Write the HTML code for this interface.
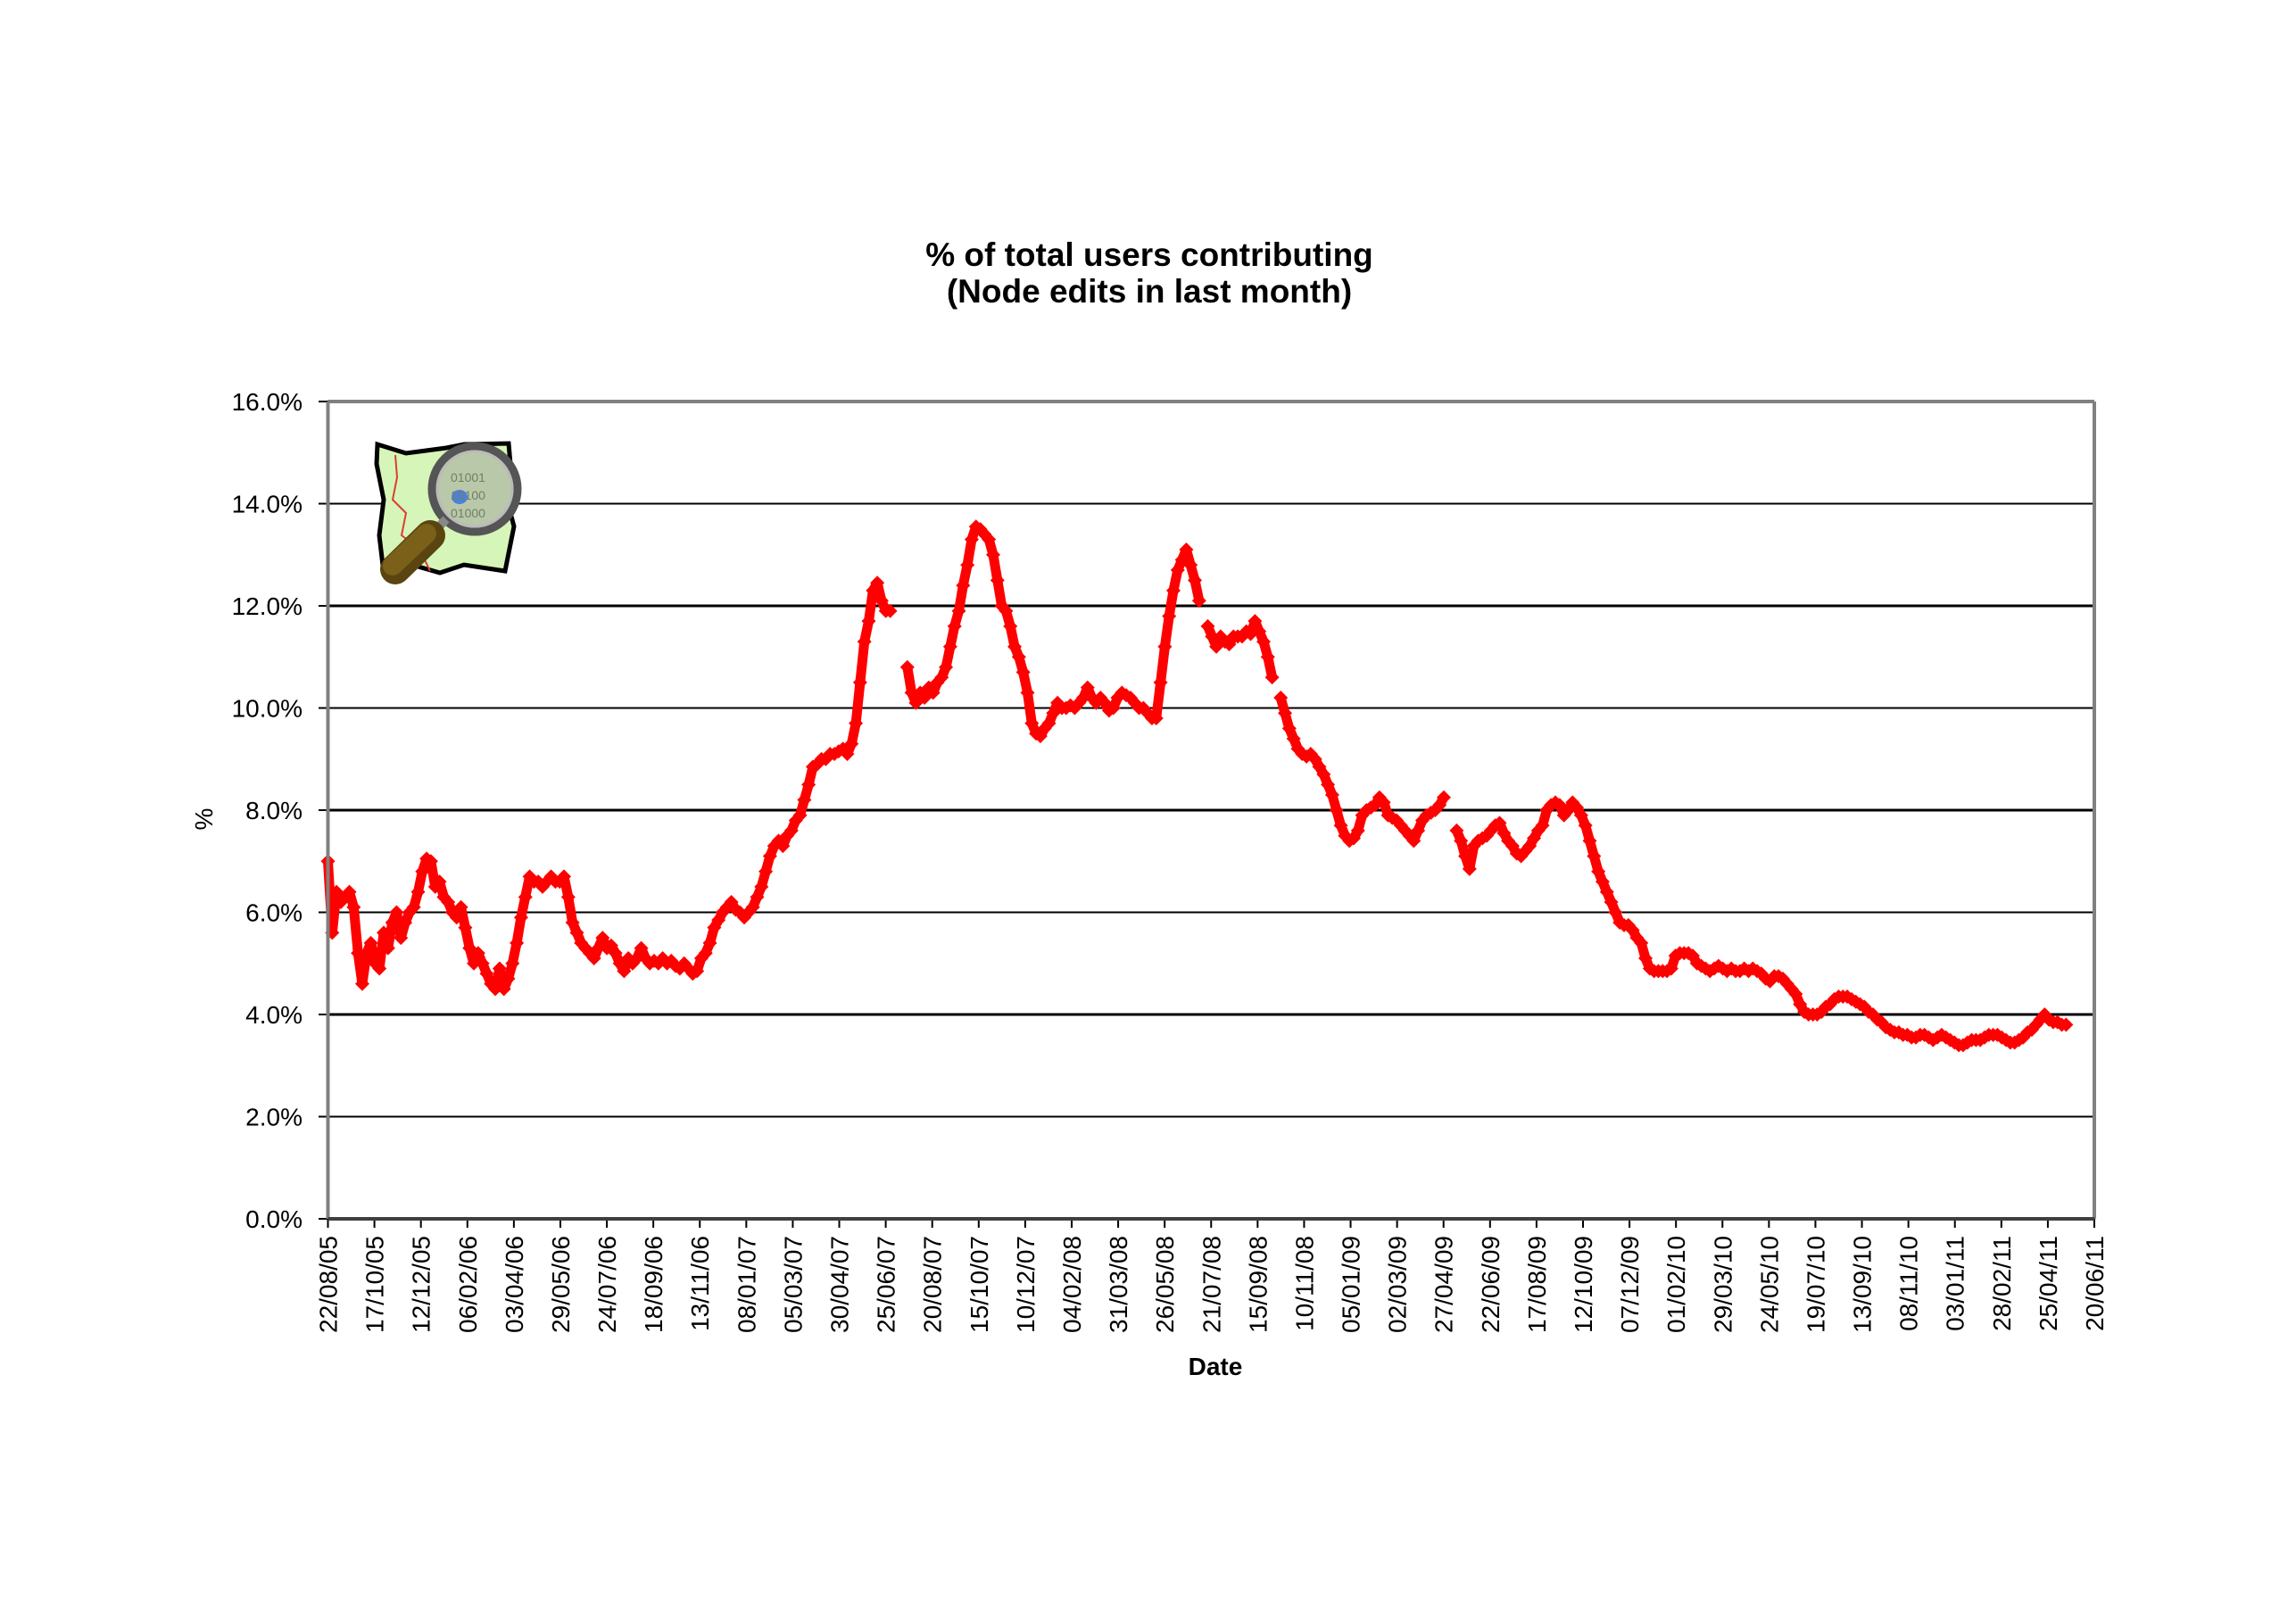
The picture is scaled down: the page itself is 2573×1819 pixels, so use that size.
<!DOCTYPE html>
<html><head><meta charset="utf-8"><style>
html,body{margin:0;padding:0;background:#fff;}
svg{display:block;font-family:"Liberation Sans",Arial,sans-serif;}
</style></head><body>
<svg id="chart" width="2573" height="1819" viewBox="0 0 2573 1819" xmlns="http://www.w3.org/2000/svg">
<rect width="2573" height="1819" fill="#fff"/>
<g font-weight="bold" font-size="37" text-anchor="middle" fill="#000">
<text x="1288" y="298">% of total users contributing</text>
<text x="1288" y="339">(Node edits in last month)</text>
</g>
<g id="grid"></g>
<g id="yaxis"></g>
<g id="xaxis"></g>
<text x="0" y="0" font-size="28" text-anchor="middle" transform="translate(238,918) rotate(-90)">%</text>
<text x="1362" y="1541" font-size="28" font-weight="bold" text-anchor="middle">Date</text>
<g id="series"></g>
<g>
<polygon points="423,498 455,508 500,502 520,498 570,497 572,520 568,560 576,590 566,640 520,633 493,642 458,632 430,642 425,600 430,560 422,520" fill="#d6f5b8" stroke="#000" stroke-width="5"/>
<path d="M443,510 L445,535 L440,560 L455,575 L450,600 L470,615 L482,640" fill="none" stroke="#d84030" stroke-width="2"/>
<path d="M495,520 L505,505 L515,525 L500,540 Z" fill="#80c850"/>
<circle cx="532" cy="548" r="48" fill="#b8c8a8" stroke="#555" stroke-width="9"/>
<circle cx="532" cy="548" r="42" fill="none" stroke="#bbb" stroke-width="3"/>
<ellipse cx="515" cy="557" rx="9" ry="8" fill="#4a80e0"/>
<text x="505" y="540" font-size="14" fill="#708060">01001</text>
<text x="505" y="560" font-size="14" fill="#708060">10100</text>
<text x="505" y="580" font-size="14" fill="#708060">01000</text>
<line x1="500" y1="582" x2="480" y2="602" stroke="#888" stroke-width="10"/>
<line x1="482" y1="600" x2="443" y2="638" stroke="#5a4410" stroke-width="34" stroke-linecap="round"/>
<line x1="478" y1="598" x2="440" y2="634" stroke="#7a6018" stroke-width="22" stroke-linecap="round"/>
</g>
<g id="frame"></g>
</svg>
<script>
const yTicks=[0,2,4,6,8,10,12,14,16];
const yTickLabels=["0.0%","2.0%","4.0%","6.0%","8.0%","10.0%","12.0%","14.0%","16.0%"];
const xTickLabels=["22/08/05","17/10/05","12/12/05","06/02/06","03/04/06","29/05/06","24/07/06","18/09/06","13/11/06","08/01/07","05/03/07","30/04/07","25/06/07","20/08/07","15/10/07","10/12/07","04/02/08","31/03/08","26/05/08","21/07/08","15/09/08","10/11/08","05/01/09","02/03/09","27/04/09","22/06/09","17/08/09","12/10/09","07/12/09","01/02/10","29/03/10","24/05/10","19/07/10","13/09/10","08/11/10","03/01/11","28/02/11","25/04/11","20/06/11"];
const tickIntervalDays=56;
const firstDay=0;
const lastDay=2094;
const values=[7.0,5.6,6.4,6.2,6.3,6.4,6.1,5.2,4.6,5.2,5.4,5.0,4.9,5.6,5.3,5.8,6.0,5.5,5.8,6.0,6.1,6.4,6.8,7.05,7.0,6.5,6.6,6.3,6.2,6.0,5.9,6.1,5.7,5.3,5.0,5.2,5.0,4.8,4.6,4.5,4.9,4.5,4.7,5.0,5.4,5.9,6.3,6.7,6.6,6.6,6.5,6.6,6.7,6.6,6.6,6.7,6.3,5.8,5.6,5.4,5.3,5.2,5.1,5.3,5.5,5.3,5.35,5.2,5.0,4.85,5.1,5.0,5.1,5.3,5.1,5.0,5.05,5.0,5.1,5.0,5.05,4.95,4.9,5.0,4.9,4.8,4.85,5.1,5.2,5.4,5.7,5.85,6.0,6.1,6.2,6.05,6.0,5.9,6.0,6.1,6.3,6.5,6.8,7.1,7.3,7.4,7.3,7.5,7.6,7.8,7.9,
8.2,8.5,8.85,8.9,9.0,9.0,9.1,9.1,9.15,9.2,9.1,9.3,9.7,10.5,11.3,11.7,12.3,12.45,12.1,11.9,11.9,null,null,null,
10.8,10.3,10.1,10.3,10.2,10.4,10.3,10.5,10.6,10.8,11.2,11.6,11.9,12.4,12.8,13.3,13.55,13.5,13.4,13.3,13.0,12.5,12.0,11.9,11.6,11.2,11.0,10.7,10.3,9.7,9.5,9.45,9.6,9.7,9.9,10.1,10.0,10.0,10.05,10.0,10.1,10.2,10.4,10.2,10.1,10.2,10.1,9.95,10.0,10.2,10.3,10.25,10.2,10.1,10.0,10.0,9.9,9.8,9.8,10.5,11.2,11.8,12.3,12.7,12.9,13.1,12.8,12.5,12.1,null,
11.6,11.4,11.2,11.4,11.3,11.25,11.4,11.4,11.4,11.5,11.45,11.7,11.5,11.3,11.0,10.6,null,
10.2,9.9,9.6,9.4,9.2,9.1,9.05,9.1,9.0,8.85,8.7,8.5,8.3,8.0,7.7,7.5,7.4,7.45,7.6,7.9,8.0,8.05,8.1,8.25,8.15,7.9,7.85,7.8,7.7,7.6,7.5,7.4,7.6,7.8,7.9,7.95,8.0,8.1,8.25,null,null,
7.6,7.4,7.1,6.85,7.3,7.4,7.45,7.5,7.6,7.7,7.75,7.55,7.4,7.3,7.15,7.1,7.2,7.3,7.45,7.6,7.7,8.0,8.1,8.15,8.1,7.9,8.0,8.15,8.05,7.9,7.7,7.4,7.1,6.8,6.6,6.4,6.2,6.0,5.8,5.75,5.75,5.65,5.5,5.4,5.1,4.9,4.85,4.85,4.85,4.85,4.9,5.15,5.2,5.2,5.2,5.15,5.0,4.95,4.9,4.85,4.9,4.95,4.9,4.85,4.9,4.85,4.85,4.9,4.85,4.9,4.85,4.8,4.7,4.65,4.75,4.75,4.7,4.6,4.5,4.4,4.2,4.05,4.0,4.0,4.0,4.05,4.15,4.2,4.3,4.35,4.35,4.35,4.3,4.25,4.2,4.15,4.05,4.0,3.9,3.85,3.75,3.7,3.65,3.65,3.6,3.6,3.55,3.55,3.6,3.6,3.55,3.5,3.55,3.6,3.55,3.5,3.45,3.4,3.4,3.45,3.5,3.5,3.5,3.55,3.6,3.6,3.6,3.55,3.5,3.45,3.45,3.5,3.55,3.65,3.7,3.8,3.9,4.0,3.9,3.85,3.85,3.8,3.8];

const NS="http://www.w3.org/2000/svg";
const X0=367.5,X1=2347,Y0=1366,Y16=450;
const totalDays=tickIntervalDays*(xTickLabels.length-1);
function xScale(d){return X0+(d/totalDays)*(X1-X0);}
function yScale(v){return Y0-(v/16)*(Y0-Y16);}
function mk(tag,attrs,parent){const e=document.createElementNS(NS,tag);for(const k in attrs)e.setAttribute(k,attrs[k]);parent.appendChild(e);return e;}

const grid=document.getElementById('grid'),yax=document.getElementById('yaxis'),xax=document.getElementById('xaxis');
yTicks.forEach((t,i)=>{
  const y=yScale(t);
  if(t>0&&t<16){const g=mk('line',{x1:X0,x2:X1,y1:y,y2:y,stroke:'#000','stroke-width':(t%4===0)?3:2},grid);
  
  }
  const tk=mk('line',{x1:357,x2:X0,y1:y,y2:y,stroke:'#000','stroke-width':2},yax);
  
  
  const tx=mk('text',{x:339,y:y+10,'font-size':28,'text-anchor':'end'},yax);
  
  
  tx.textContent=yTickLabels[i];
});
xTickLabels.forEach((lab,i)=>{
  const x=xScale(i*tickIntervalDays);
  const tk=mk('line',{x1:x,x2:x,y1:Y0,y2:Y0+10,stroke:'#000','stroke-width':2},xax);
  
  
  const tx=mk('text',{x:0,y:0,'font-size':28,'text-anchor':'end',transform:`translate(${x+10},1385) rotate(-90)`},xax);
  
  
  tx.textContent=lab;
});
const frame=document.getElementById('frame');
mk('line',{x1:X0,x2:X1,y1:Y16,y2:Y16,stroke:'#808080','stroke-width':4},frame);
mk('line',{x1:X1,x2:X1,y1:Y16,y2:Y0,stroke:'#808080','stroke-width':4},frame);
mk('line',{x1:X0,x2:X0,y1:Y16,y2:Y0,stroke:'#808080','stroke-width':4},frame);
mk('line',{x1:X0,x2:X1,y1:Y0,y2:Y0,stroke:'#404040','stroke-width':4},frame);

const ser=document.getElementById('series');
const n=values.length,step=(lastDay-firstDay)/(n-1);
let seg=[];
function flush(){if(seg.length>1){const p=mk('polyline',{points:seg.join(' '),fill:'none',stroke:'#ff0000','stroke-width':11,'stroke-linejoin':'round','stroke-linecap':'round'},ser);

}seg=[];}
values.forEach((v,i)=>{
  if(v===null){flush();return;}
  const x=xScale(firstDay+i*step),y=yScale(v);
  seg.push(x.toFixed(1)+','+y.toFixed(1));
  const m=mk('polygon',{points:`${x},${y-8} ${x+8},${y} ${x},${y+8} ${x-8},${y}`,fill:'#ff0000'},ser);
  
  
});
flush();
</script>
</body></html>
